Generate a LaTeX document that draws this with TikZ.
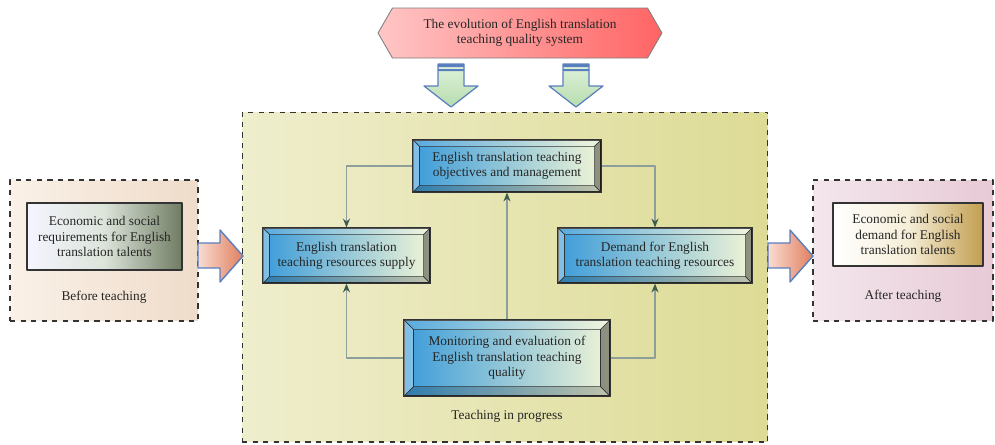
\documentclass[tikz,border=0pt]{standalone}
\usepackage{fontspec}
\setmainfont{Liberation Serif}
\usetikzlibrary{arrows.meta,shapes.symbols}
\definecolor{hexL}{HTML}{FFC6C6}
\definecolor{hexR}{HTML}{FF6464}
\definecolor{midL}{HTML}{EFEECD}
\definecolor{midR}{HTML}{DDDB95}
\definecolor{befL}{HTML}{FAF1E8}
\definecolor{befR}{HTML}{EFDCCA}
\definecolor{aftL}{HTML}{F3E6EC}
\definecolor{aftR}{HTML}{E7CAD5}
\definecolor{reqM}{HTML}{DCE4DA}
\definecolor{reqR}{HTML}{6F7C62}
\definecolor{demM}{HTML}{F6EED8}
\definecolor{demR}{HTML}{C29E50}
\definecolor{bevL}{HTML}{3C9CDA}
\definecolor{bevR}{HTML}{F0F4D6}
\definecolor{lineC}{HTML}{8E9E9A}
\definecolor{arrC}{HTML}{3C5C4C}
\definecolor{edgeB}{HTML}{5A7FBF}
\definecolor{downT}{HTML}{E0F2DA}
\definecolor{downB}{HTML}{B6DCAE}
\definecolor{sideL}{HTML}{F8DCD2}
\definecolor{sideR}{HTML}{E27F5E}
% bevel frame round a named node: #1 node, #2 width
\newcommand\bevel[2]{%
 \fill[white,opacity=.35] (#1.north west) -- (#1.south west) -- ([shift={(#2,#2)}]#1.south west) -- ([shift={(#2,-#2)}]#1.north west) -- cycle;
 \fill[white,opacity=.15] (#1.north west) -- (#1.north east) -- ([shift={(-#2,-#2)}]#1.north east) -- ([shift={(#2,-#2)}]#1.north west) -- cycle;
 \fill[black,opacity=.4] (#1.north east) -- (#1.south east) -- ([shift={(-#2,#2)}]#1.south east) -- ([shift={(-#2,-#2)}]#1.north east) -- cycle;
 \fill[black,opacity=.2] (#1.south west) -- (#1.south east) -- ([shift={(-#2,#2)}]#1.south east) -- ([shift={(#2,#2)}]#1.south west) -- cycle;
 \draw[black!80,line width=.4pt] ([shift={(#2,#2)}]#1.south west) rectangle ([shift={(-#2,-#2)}]#1.north east)
  (#1.south west) -- ++(#2,#2) (#1.north west) -- ++(#2,-#2) (#1.north east) -- ++(-#2,-#2) (#1.south east) -- ++(-#2,#2);
 \draw[black!80,line width=.7pt] (#1.south west) rectangle (#1.north east);}
\begin{document}
\begin{tikzpicture}[x=0.02cm,y=-0.02cm,font=\fontsize{7.6}{8.7}\selectfont,line join=round,text=black!85,
 bev/.style={draw=black!80,line width=.7pt,left color=bevL,right color=bevR,align=center,inner sep=0pt},
 dashbox/.style={draw=black!80,dashed,line width=.6pt,inner sep=0pt},
 plainbox/.style={draw=black!80,line width=.6pt,align=center,inner sep=0pt},
 conn/.style={draw=lineC,line width=1pt,-{Stealth[length=5pt,width=4pt,color=arrC]}}]
 \useasboundingbox (0,0) rectangle (995,444);
 % title
 \node[signal,signal to=east and west,signal pointer angle=120,draw=black!50,line width=.5pt,
  left color=hexL,right color=hexR,minimum width=5.68cm,minimum height=1cm,inner sep=0pt,align=center]
  (evol) at (520,33) {The evolution of English translation\\teaching quality system};
 \foreach \x in {451,576}{
  \shadedraw[top color=downT,bottom color=downB,draw=edgeB,line width=.7pt]
   ({\x-13},64) -- ({\x+13},64) -- ({\x+13},86) -- ({\x+27},86) -- (\x,107) -- ({\x-27},86) -- ({\x-13},86) -- cycle;
  \fill[edgeB] ({\x-13},64) rectangle ({\x+13},67) ({\x-13},69) rectangle ({\x+13},71);}
 % three stages
 \node[dashbox,left color=befL,right color=befR,minimum width=3.76cm,minimum height=2.82cm] (before) at (104,250.5) {};
 \node[dashbox,left color=midL,right color=midR,minimum width=10.52cm,minimum height=6.6cm] (during) at (505,277) {};
 \node[dashbox,left color=aftL,right color=aftR,minimum width=3.6cm,minimum height=2.82cm] (after) at (903,250.5) {};
 \node[plainbox,left color=blue!4,right color=reqR,middle color=reqM,
  minimum width=3.1cm,minimum height=1.34cm] (req) at (104.5,236.5) {Economic and social\\requirements for English\\translation talents};
 \node[plainbox,left color=white,right color=demR,middle color=demM,
  minimum width=3cm,minimum height=1.26cm] (dem) at (908,234.5) {Economic and social\\demand for English\\translation talents};
 \node (beforelab) at (104,297) {Before teaching};
 \node (afterlab) at (903,296) {After teaching};
 \node (duringlab) at (507,416) {Teaching in progress};
 \foreach \x in {198,768}
  \shadedraw[left color=sideL,right color=sideR,draw=edgeB,line width=.8pt]
   (\x,243) -- ({\x+22},243) -- ({\x+22},230) -- ({\x+45},256) -- ({\x+22},282) -- ({\x+22},268) -- (\x,268) -- cycle;
 % bevelled boxes
 \node[bev,minimum width=3.76cm,minimum height=1.04cm] (obj) at (507,166) {English translation teaching\\objectives and management};
 \node[bev,minimum width=3.34cm,minimum height=1.1cm] (supply) at (346.5,255.5) {English translation\\teaching resources supply};
 \node[bev,minimum width=3.88cm,minimum height=1.1cm] (demand) at (655,255.5) {Demand for English\\translation teaching resources};
 \node[bev,minimum width=4.12cm,minimum height=1.52cm] (monitor) at (507,358) {Monitoring and evaluation of\\English translation teaching\\quality};
 \bevel{obj}{0.14cm} \bevel{supply}{0.14cm} \bevel{demand}{0.14cm} \bevel{monitor}{0.2cm}
 \draw[conn] (obj.west) -| (supply.north);
 \draw[conn] (obj.east) -| (demand.north);
 \draw[conn] (monitor.north) -- (obj.south);
 \draw[conn] (monitor.west) -| (supply.south);
 \draw[conn] (monitor.east) -| (demand.south);
\end{tikzpicture}
\end{document}
